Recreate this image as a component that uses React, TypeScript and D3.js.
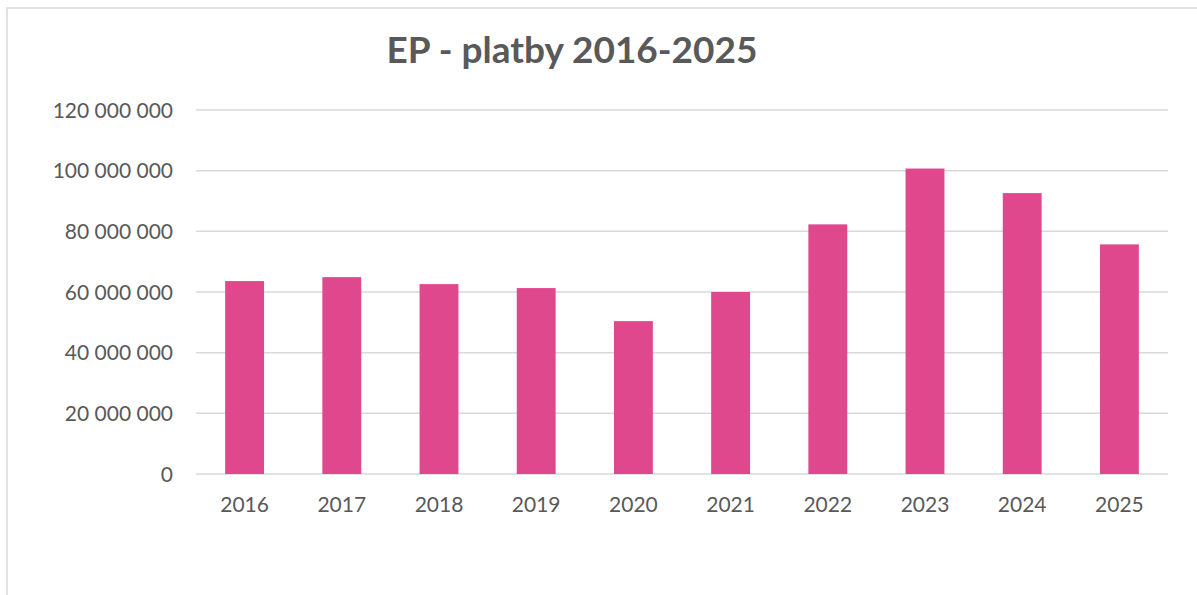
import * as d3 from "d3";

const years = ["2016", "2017", "2018", "2019", "2020", "2021", "2022", "2023", "2024", "2025"];
const payments = [63.6e6, 64.9e6, 62.6e6, 61.3e6, 50.4e6, 60.0e6, 82.3e6, 100.7e6, 92.6e6, 75.7e6];
const yTicks = [0, 20e6, 40e6, 60e6, 80e6, 100e6, 120e6];
const title = "EP - platby 2016-2025";

const W = 1197;
const H = 595;
const plot = { left: 196, right: 1168, top: 110, bottom: 474 };
const textColor = "#595959";
const font = "Lato, 'Open Sans', sans-serif";

// thousands separated by a space, like the original
const fmt = (v: number) => d3.format(",")(v).replace(/,/g, " ");

export default function App() {
  const x = d3
    .scaleBand()
    .domain(years)
    .range([plot.left, plot.right])
    .paddingInner(0.6)
    .paddingOuter(0.3);

  const y = d3.scaleLinear().domain([0, 120e6]).range([plot.bottom, plot.top]);

  return (
    <svg
      width={W}
      height={H}
      style={{ position: "absolute", left: 0, top: 0, background: "#fff" }}
      fontFamily={font}
    >
      <rect x={7} y={8} width={W + 50} height={H + 50} fill="#fff" stroke="#d9d9d9" strokeWidth={1.5} />

      <text
        x={572}
        y={63}
        textAnchor="middle"
        fontSize={37}
        fontWeight="bold"
        fill={textColor}
      >
        {title}
      </text>

      {yTicks.map((t) => (
        <g key={t}>
          <line
            x1={plot.left}
            x2={plot.right}
            y1={y(t)}
            y2={y(t)}
            stroke="#d9d9d9"
            strokeWidth={1.5}
          />
          <text
            x={173}
            y={y(t)}
            dy="0.36em"
            textAnchor="end"
            fontSize={21}
            fill={textColor}
          >
            {fmt(t)}
          </text>
        </g>
      ))}

      {years.map((yr, i) => (
        <rect
          key={yr}
          x={x(yr)}
          y={y(payments[i])}
          width={x.bandwidth()}
          height={y(0) - y(payments[i])}
          fill="#df488d"
        />
      ))}

      {years.map((yr) => (
        <text
          key={yr}
          x={(x(yr) as number) + x.bandwidth() / 2}
          y={512}
          textAnchor="middle"
          fontSize={21}
          fill={textColor}
        >
          {yr}
        </text>
      ))}
    </svg>
  );
}
